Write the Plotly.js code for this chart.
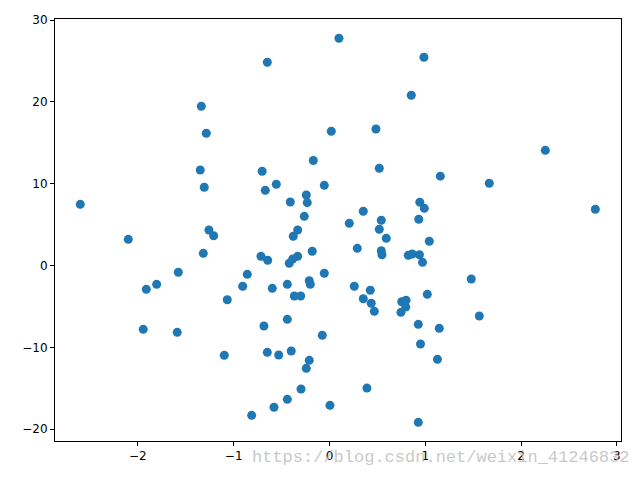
<!DOCTYPE html>
<html>
<head>
<meta charset="utf-8">
<script src="https://cdn.plot.ly/plotly-3.0.1.min.js"></script>
<style>html,body{margin:0;padding:0;background:#fff;}#chart{width:640px;height:480px;}</style>
</head>
<body>
<div id="chart"></div>
<script>
const xValues = [-1.338,-1.286,-1.349,0.099,-0.649,0.986,0.854,0.019,0.485,-0.169,
 -0.703,0.520,2.253,-1.307,-2.601,-2.100,-1.258,-1.209,-1.317,-1.578,
 -1.804,-1.912,-0.858,-0.906,-1.067,1.157,-0.555,-0.670,-0.054,-0.242,
 -0.232,-0.409,-0.263,0.353,0.207,0.541,0.520,0.593,0.943,0.990,
 0.932,-0.332,-0.378,1.042,0.290,0.541,0.548,-0.715,-0.645,-0.332,
 -0.384,-0.420,-0.180,0.823,0.864,0.939,0.971,-0.054,-0.211,-0.200,
 -0.440,-0.597,-0.367,-0.301,0.259,0.426,0.353,0.436,0.468,0.754,
 0.796,0.746,1.021,1.668,2.775,1.480,-1.944,-1.589,-1.098,-0.812,
 -0.684,-0.440,0.927,1.146,-0.075,0.950,-0.649,-0.530,-0.399,-0.211,
 -0.242,1.127,-0.297,0.391,-0.440,-0.579,0.005,0.927,1.564,0.799];
const yValues = [19.46,16.16,11.67,27.78,24.84,25.45,20.81,16.41,16.69,12.84,
 11.52,11.89,14.08,9.56,7.48,3.20,4.34,3.64,1.49,-0.83,
 -2.30,-2.91,-1.08,-2.54,-4.18,10.92,9.93,9.19,9.80,8.62,
 7.68,7.76,6.01,6.63,5.16,5.53,4.43,3.33,7.74,6.99,
 5.65,4.34,3.57,2.96,2.10,1.81,1.32,1.12,0.64,1.12,
 0.79,0.27,1.74,1.25,1.41,1.31,0.39,-0.95,-1.86,-2.30,
 -2.30,-2.79,-3.73,-3.73,-2.54,-3.03,-4.06,-4.61,-5.60,-4.43,
 -5.07,-5.72,-3.52,10.05,6.87,-1.65,-7.80,-8.17,-10.98,-18.31,
 -7.40,-6.58,-7.19,-7.68,-8.53,-9.60,-10.61,-10.94,-10.45,-11.59,
 -12.57,-11.47,-15.10,-14.98,-16.36,-17.33,-17.09,-19.17,-6.17,-4.25];
const xTicks = [-2,-1,0,1,2,3];
const yTicks = [-20,-10,0,10,20,30];
const watermark = "https://blog.csdn.net/weixin_41246832";

const axisCommon = {
  showline: true, linecolor: '#000', linewidth: 1, mirror: true,
  ticks: 'outside', ticklen: 4, tickwidth: 1, tickcolor: '#000',
  showgrid: false, zeroline: false,
  tickfont: {family: 'DejaVu Sans', size: 12, color: '#000'}
};

Plotly.newPlot('chart', [{
  type: 'scatter', mode: 'markers', x: xValues, y: yValues,
  marker: {color: '#1f77b4', size: 9}
}], {
  width: 640, height: 480,
  margin: {l: 55, r: 19, t: 19, b: 39},
  paper_bgcolor: '#fff', plot_bgcolor: '#fff',
  showlegend: false,
  xaxis: Object.assign({}, axisCommon, {range: [-2.865, 3.043], tickvals: xTicks}),
  yaxis: Object.assign({}, axisCommon, {range: [-21.45, 30.13], tickvals: yTicks}),
  annotations: [{
    text: watermark, xref: 'paper', yref: 'paper', x: 1.018, y: -0.012,
    xanchor: 'right', yanchor: 'top', showarrow: false,
    font: {family: 'Liberation Mono', size: 17, color: 'rgba(190,190,190,0.85)'}
  }]
}, {displayModeBar: false, staticPlot: true});
</script>
</body>
</html>
